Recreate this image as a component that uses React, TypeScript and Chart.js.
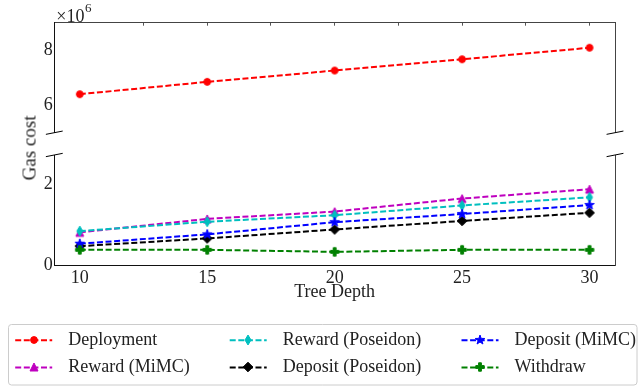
import React, { useEffect, useRef } from 'react';
import { Chart, registerables } from 'chart.js';

Chart.register(...registerables);

// ---------------- data ----------------
const depths = [10, 15, 20, 25, 30];
// gas cost, in units of 10^6
const deployment = [6.40, 6.85, 7.26, 7.67, 8.09];
const rewardMiMC = [0.82, 1.15, 1.33, 1.65, 1.88];
const rewardPoseidon = [0.85, 1.08, 1.24, 1.48, 1.68];
const depositPoseidon = [0.48, 0.67, 0.89, 1.10, 1.30];
const depositMiMC = [0.54, 0.77, 1.07, 1.27, 1.49];
const withdraw = [0.39, 0.39, 0.34, 0.39, 0.39];

const xTicks = [10, 15, 20, 25, 30];
const topSpineTicks = [12.5, 15, 17.5, 20, 22.5, 25, 27.5, 30];
const topYTicks = [6, 8];
const bottomYTicks = [0, 2];

const labels = ['Deployment', 'Reward (MiMC)', 'Reward (Poseidon)', 'Deposit (Poseidon)', 'Deposit (MiMC)', 'Withdraw'];
const colors = ['#ff0000', '#bf00bf', '#00bfbf', '#000000', '#0000ff', '#008000'];
const markerShapes = ['o', '^', 'd', 'D', '*', 'P'];
const xTitle = 'Tree Depth';
const yTitle = 'Gas cost';
const offsetBase = '\u00d710';
const offsetExp = '6';

// ---------------- layout ----------------
const FONT = "'Liberation Serif', 'Times New Roman', serif";
const L = {
  topH: 152,
  botTop: 140,
  botH: 246,
  left: 54.3,
  rightW: 25,
  topPlotTop: 22.7,
  topPlotBottom: 132.7,
  botPlotTop: 155,
  botPlotBottom: 265.7,
  xAxisH: 40,
};

function makeMarker(shape: string, color: string): HTMLCanvasElement {
  const s = 14;
  const c = document.createElement('canvas');
  c.width = s;
  c.height = s;
  const g = c.getContext('2d')!;
  g.fillStyle = color;
  g.strokeStyle = color;
  g.lineWidth = 1;
  g.lineJoin = 'miter';
  const m = s / 2;
  g.beginPath();
  switch (shape) {
    case 'o':
      g.arc(m, m, 3.4, 0, Math.PI * 2);
      break;
    case '^':
      g.moveTo(m, m - 4);
      g.lineTo(m + 4, m + 4);
      g.lineTo(m - 4, m + 4);
      g.closePath();
      break;
    case 'd':
      g.moveTo(m, m - 5);
      g.lineTo(m + 3, m);
      g.lineTo(m, m + 5);
      g.lineTo(m - 3, m);
      g.closePath();
      break;
    case 'D':
      g.moveTo(m, m - 4.8);
      g.lineTo(m + 4.8, m);
      g.lineTo(m, m + 4.8);
      g.lineTo(m - 4.8, m);
      g.closePath();
      break;
    case '*': {
      const R = 5, r = 2.0;
      for (let i = 0; i < 10; i++) {
        const a = -Math.PI / 2 + (i * Math.PI) / 5;
        const rad = i % 2 === 0 ? R : r;
        const px = m + rad * Math.cos(a), py = m + rad * Math.sin(a);
        if (i === 0) g.moveTo(px, py); else g.lineTo(px, py);
      }
      g.closePath();
      break;
    }
    case 'P': {
      const h = 4.2, t = 1.4;
      g.moveTo(m - t, m - h);
      g.lineTo(m + t, m - h);
      g.lineTo(m + t, m - t);
      g.lineTo(m + h, m - t);
      g.lineTo(m + h, m + t);
      g.lineTo(m + t, m + t);
      g.lineTo(m + t, m + h);
      g.lineTo(m - t, m + h);
      g.lineTo(m - t, m + t);
      g.lineTo(m - h, m + t);
      g.lineTo(m - h, m - t);
      g.lineTo(m - t, m - t);
      g.closePath();
      break;
    }
  }
  g.fill();
  g.stroke();
  return c;
}

const DASH = [6, 2.6];

function breakMarks(edge: 'top' | 'bottom') {
  return {
    id: 'breakMarks',
    afterDraw(chart: any) {
      const { ctx, chartArea: a } = chart;
      const dx = 0.015 * (a.right - a.left);
      const dy = 0.015 * (a.bottom - a.top);
      const y = edge === 'bottom' ? a.bottom : a.top;
      ctx.save();
      ctx.strokeStyle = '#000';
      ctx.lineWidth = 1;
      for (const x of [a.left, a.right]) {
        ctx.beginPath();
        ctx.moveTo(x - dx, y + dy);
        ctx.lineTo(x + dx, y - dy);
        ctx.stroke();
      }
      ctx.restore();
    },
  };
}

const offsetTextPlugin = {
  id: 'offsetText',
  afterDraw(chart: any) {
    const { ctx, chartArea: a } = chart;
    ctx.save();
    ctx.fillStyle = '#222';
    ctx.textBaseline = 'alphabetic';
    ctx.textAlign = 'left';
    ctx.font = `18px ${FONT}`;
    const x0 = a.left + 2;
    const y0 = a.top - 1.2;
    ctx.fillText(offsetBase, x0, y0);
    const w = ctx.measureText(offsetBase).width;
    ctx.font = `13px ${FONT}`;
    ctx.fillText(offsetExp, x0 + w + 0.5, y0 - 9.5);
    ctx.restore();
  },
};

function makeLegendPlugin(markers: HTMLCanvasElement[]) {
  const colX = [15.2, 229.7, 461.5];
  const rowY = [340.3, 367.4];
  return {
    id: 'mplLegend',
    afterDraw(chart: any) {
      const ctx = chart.ctx;
      const oy = L.botTop;
      const bx = 8.5, by = 324.5 - oy, bw = 628.5, bh = 60.5, r = 3;
      ctx.save();
      ctx.beginPath();
      ctx.moveTo(bx + r, by);
      ctx.lineTo(bx + bw - r, by);
      ctx.arcTo(bx + bw, by, bx + bw, by + r, r);
      ctx.lineTo(bx + bw, by + bh - r);
      ctx.arcTo(bx + bw, by + bh, bx + bw - r, by + bh, r);
      ctx.lineTo(bx + r, by + bh);
      ctx.arcTo(bx, by + bh, bx, by + bh - r, r);
      ctx.lineTo(bx, by + r);
      ctx.arcTo(bx, by, bx + r, by, r);
      ctx.closePath();
      ctx.fillStyle = 'rgba(255,255,255,0.8)';
      ctx.fill();
      ctx.strokeStyle = '#cccccc';
      ctx.lineWidth = 1;
      ctx.stroke();
      labels.forEach((lab, k) => {
        const col = Math.floor(k / 2), row = k % 2;
        const hx = colX[col];
        const cy = rowY[row] - oy;
        ctx.setLineDash(DASH);
        ctx.strokeStyle = colors[k];
        ctx.lineWidth = 2;
        ctx.beginPath();
        ctx.moveTo(hx, cy);
        ctx.lineTo(hx + 37, cy);
        ctx.stroke();
        ctx.setLineDash([]);
        const mk = markers[k];
        ctx.drawImage(mk, Math.round(hx + 18.5 - mk.width / 2), Math.round(cy - mk.height / 2));
        ctx.fillStyle = '#222';
        ctx.font = `18px ${FONT}`;
        ctx.textBaseline = 'middle';
        ctx.textAlign = 'left';
        ctx.fillText(lab, hx + 53, cy);
      });
      ctx.restore();
    },
  };
}

function series(k: number, vals: number[], markers: HTMLCanvasElement[]) {
  return {
    label: labels[k],
    data: depths.map((x, i) => ({ x, y: vals[i] })),
    borderColor: colors[k],
    backgroundColor: colors[k],
    borderWidth: 2,
    borderDash: DASH,
    pointStyle: markers[k],
    pointRadius: 4,
    pointHoverRadius: 4,
    tension: 0,
    fill: false,
    order: -k,
  };
}

const tickFont = { family: FONT, size: 18 };

const noScalePad = (s: any) => {
  s.paddingTop = 0;
  s.paddingBottom = 0;
};

export default function App() {
  const topRef = useRef<HTMLCanvasElement>(null);
  const botRef = useRef<HTMLCanvasElement>(null);

  useEffect(() => {
    const markers = markerShapes.map((s, i) => makeMarker(s, colors[i]));

    const top = new Chart(topRef.current!, {
      type: 'line',
      data: { datasets: [series(0, deployment, markers)] as any },
      options: {
        responsive: false,
        animation: false,
        events: [],
        layout: { padding: { top: L.topPlotTop - 2, bottom: L.topH - L.topPlotBottom, left: 0, right: 0 } },
        plugins: { legend: { display: false }, tooltip: { enabled: false } },
        scales: {
          x: {
            type: 'linear',
            position: 'top',
            min: 9,
            max: 31,
            afterBuildTicks: (s: any) => { s.ticks = topSpineTicks.map((v) => ({ value: v })); },
            afterFit: (s: any) => { s.height = 2; s.paddingLeft = 0; s.paddingRight = 0; },
            ticks: { display: false },
            grid: { display: true, drawOnChartArea: false, drawTicks: true, tickLength: -3, color: '#555' },
            border: { display: true, color: '#444', width: 1 },
          },
          y: {
            type: 'linear',
            position: 'left',
            min: 5,
            max: 9,
            afterBuildTicks: (s: any) => { s.ticks = topYTicks.map((v) => ({ value: v })); },
            afterFit: (s: any) => { s.width = L.left; noScalePad(s); },
            ticks: { font: tickFont, color: '#222', padding: 1.5 },
            grid: { display: false, drawTicks: false },
            border: { display: true, color: '#111', width: 1 },
          },
          y2: {
            type: 'linear',
            position: 'right',
            min: 0,
            max: 1,
            afterFit: (s: any) => { s.width = L.rightW; noScalePad(s); },
            ticks: { display: false },
            grid: { display: false, drawTicks: false },
            border: { display: true, color: '#444', width: 1 },
          },
        },
      } as any,
      plugins: [breakMarks('bottom'), offsetTextPlugin],
    });

    const bot = new Chart(botRef.current!, {
      type: 'line',
      data: {
        datasets: [
          series(1, rewardMiMC, markers),
          series(2, rewardPoseidon, markers),
          series(3, depositPoseidon, markers),
          series(4, depositMiMC, markers),
          series(5, withdraw, markers),
        ] as any,
      },
      options: {
        responsive: false,
        animation: false,
        events: [],
        layout: {
          padding: {
            top: L.botPlotTop - L.botTop,
            bottom: L.botH - (L.botPlotBottom - L.botTop) - L.xAxisH,
            left: 0,
            right: 0,
          },
        },
        plugins: { legend: { display: false }, tooltip: { enabled: false } },
        scales: {
          x: {
            type: 'linear',
            position: 'bottom',
            min: 9,
            max: 31,
            afterBuildTicks: (s: any) => { s.ticks = xTicks.map((v) => ({ value: v })); },
            afterFit: (s: any) => { s.height = L.xAxisH; s.paddingLeft = 0; s.paddingRight = 0; },
            ticks: { font: tickFont, color: '#222', padding: 2, maxRotation: 0, autoSkip: false },
            grid: { display: false, drawTicks: false },
            border: { display: true, color: '#111', width: 1 },
            title: { display: true, text: xTitle, font: { family: FONT, size: 18 }, color: '#222', padding: { top: 0, bottom: 3 } },
          },
          y: {
            type: 'linear',
            position: 'left',
            min: 0,
            max: 2.72,
            afterBuildTicks: (s: any) => { s.ticks = bottomYTicks.map((v) => ({ value: v })); },
            afterFit: (s: any) => { s.width = L.left; noScalePad(s); },
            ticks: { font: tickFont, color: '#222', padding: 1.5 },
            grid: { display: false, drawTicks: false },
            border: { display: true, color: '#111', width: 1 },
          },
          y2: {
            type: 'linear',
            position: 'right',
            min: 0,
            max: 1,
            afterFit: (s: any) => { s.width = L.rightW; noScalePad(s); },
            ticks: { display: false },
            grid: { display: false, drawTicks: false },
            border: { display: true, color: '#444', width: 1 },
          },
        },
      } as any,
      plugins: [breakMarks('top'), makeLegendPlugin(markers)],
    });

    return () => {
      top.destroy();
      bot.destroy();
    };
  }, []);

  return (
    <div style={{ position: 'absolute', left: 0, top: 0, width: 640, height: 386, background: '#fff', overflow: 'hidden' }}>
      <canvas ref={topRef} width={640} height={L.topH} style={{ position: 'absolute', left: 0, top: 0 }} />
      <canvas ref={botRef} width={640} height={L.botH} style={{ position: 'absolute', left: 0, top: L.botTop }} />
      <div
        style={{
          position: 'absolute',
          left: 29,
          top: 147.5,
          transform: 'translate(-50%, -50%) rotate(-90deg)',
          font: `19px ${FONT}`,
          lineHeight: 1,
          whiteSpace: 'nowrap',
          color: '#222',
        }}
      >
        {yTitle}
      </div>
    </div>
  );
}
